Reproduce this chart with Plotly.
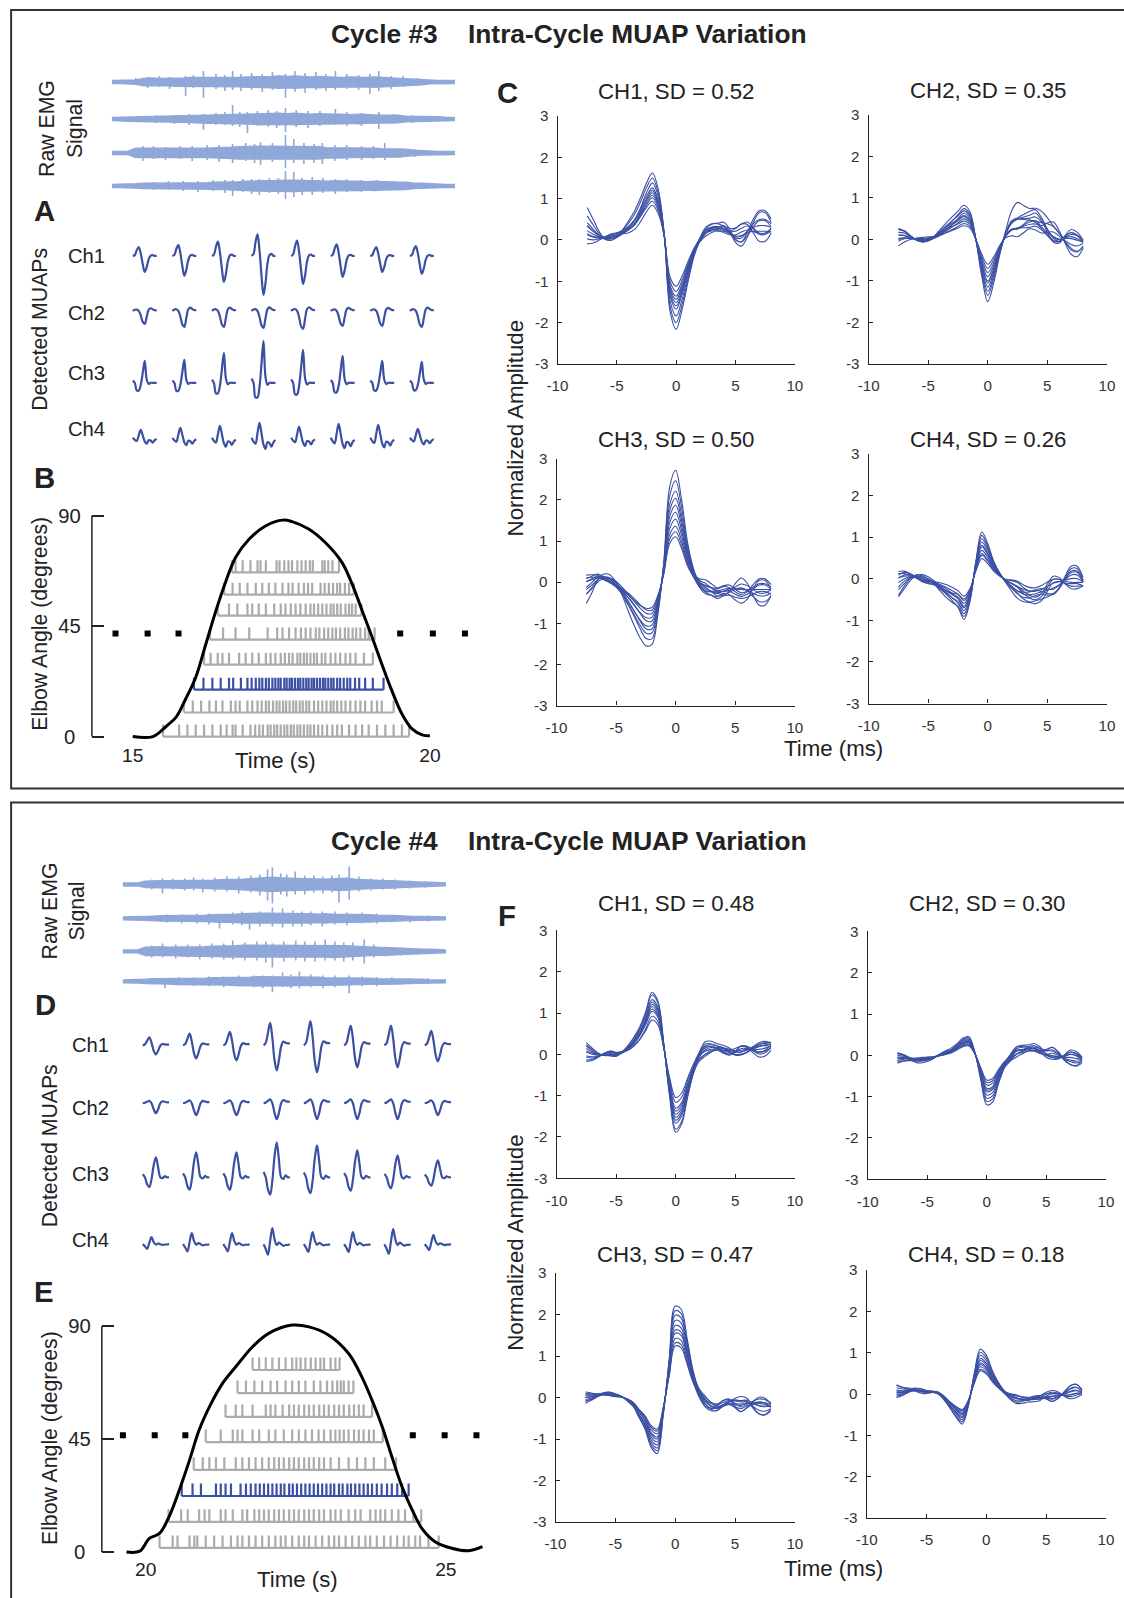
import numpy as np
import plotly.graph_objects as go

W, H = 1124, 1598
# the photographed page gets an 8px frame and is squeezed back to W x H,
# so reference pixel positions are mapped through this before use
OFF = 8
SX, SY = (W + 2 * OFF) / W, (H + 2 * OFF) / H
FS = 1.012
FONT = "Liberation Sans, Arial, Helvetica, sans-serif"
INK = "#222222"
TICK_INK = "#333333"
BLUE = "#3b4fa3"
EMG_BLUE = "#8fa7d9"
GREY = "#ababab"

# ---------------- raw EMG (core half-width in a.u., spikes as (time s, up, down)) ----------------
EMG3_SPAN = [14.65, 20.40]
EMG3_ENV = [
    [0.8, 0.8, 0.8, 1.5, 3, 3.5, 3, 3, 3.5, 3.5, 4, 4, 3.5, 4, 4, 4, 4, 4.5, 4.5, 5, 5, 5.5, 5, 5.5, 5, 4.5,
     5, 4.5, 4.5, 4, 4.5, 4, 4, 4.5, 4, 3.5, 3.5, 3, 2.5, 2, 1, 0.8, 0.8, 0.8],
    [0.8, 1, 1.5, 1.5, 2, 2, 2, 2, 2.5, 2.5, 3, 3, 3.5, 3.5, 3.5, 4, 4, 4.5, 4.5, 5, 4.5, 5, 4.5, 5, 4.5, 4,
     4.5, 4, 4, 4, 3.5, 4, 3.5, 3.5, 3, 3, 3, 2, 2, 2, 1.5, 1.5, 1, 0.8],
    [0.8, 0.8, 0.8, 4, 4, 3.5, 3.5, 3.5, 4, 4, 4, 4, 4, 4.5, 4.5, 5, 5.5, 6, 6, 6, 6, 6, 5.5, 6, 6, 5.5, 5.5,
     4.5, 4.5, 4.5, 4, 4, 4, 4, 3.5, 3.5, 3.5, 3, 2, 1.5, 1, 0.8, 0.8, 0.8],
    [0.8, 0.8, 1, 1.5, 2, 2, 2, 2, 2.5, 2.5, 2.5, 2.5, 2.5, 3, 3, 3.5, 3.5, 4, 4.5, 4.5, 4.5, 5, 5, 5, 4.5,
     4.5, 4.5, 4, 4.5, 4, 4, 4, 3.5, 4, 3.5, 3.5, 3, 3, 2, 2, 1.5, 1, 0.8, 0.8],
]
EMG3_SPIKES = [
    [(15.05, 4, 3), (15.25, 5, 6), (15.45, 6, 5), (15.62, 5, 7), (15.89, 6, 14), (16.02, 7, 6), (16.19, 11, 16),
     (16.40, 8, 7), (16.55, 7, 9), (16.68, 11, 8), (16.82, 8, 9), (17.00, 9, 8), (17.18, 8, 10), (17.35, 10, 8),
     (17.57, 8, 16), (17.73, 11, 10), (17.90, 9, 11), (18.08, 10, 8), (18.25, 8, 9), (18.41, 11, 8),
     (18.60, 8, 7), (18.80, 7, 8), (18.99, 8, 12), (19.14, 11, 9), (19.35, 6, 7), (19.55, 6, 5), (19.80, 4, 4)],
    [(15.10, 3, 3), (15.40, 4, 4), (15.70, 4, 5), (15.95, 5, 6), (16.19, 5, 11), (16.40, 6, 6), (16.55, 7, 6),
     (16.68, 14, 7), (16.80, 7, 8), (16.93, 7, 14), (17.10, 8, 7), (17.28, 9, 8), (17.42, 8, 9), (17.57, 11, 13),
     (17.75, 9, 8), (17.95, 8, 9), (18.15, 8, 7), (18.41, 10, 6), (18.60, 7, 7), (18.85, 6, 7), (19.14, 7, 10),
     (19.40, 5, 5), (19.70, 4, 4), (20.00, 3, 3)],
    [(15.17, 7, 8), (15.35, 7, 6), (15.55, 6, 7), (15.80, 7, 6), (16.00, 7, 8), (16.25, 8, 7), (16.45, 8, 9),
     (16.68, 9, 10), (16.90, 10, 8), (17.05, 9, 10), (17.15, 11, 12), (17.35, 10, 9), (17.57, 18, 15),
     (17.71, 14, 10), (17.88, 10, 11), (18.05, 9, 10), (18.19, 10, 11), (18.40, 8, 8), (18.60, 8, 7),
     (18.85, 7, 7), (19.05, 7, 6), (19.24, 10, 7), (19.50, 5, 5), (19.75, 4, 4)],
    [(15.10, 3, 3), (15.35, 4, 4), (15.60, 5, 4), (15.85, 5, 5), (16.10, 5, 6), (16.35, 6, 5), (16.55, 6, 7),
     (16.68, 6, 10), (16.85, 7, 6), (17.00, 7, 8), (17.13, 7, 9), (17.30, 8, 7), (17.45, 8, 8), (17.57, 15, 13),
     (17.71, 14, 11), (17.85, 8, 9), (18.02, 9, 9), (18.20, 8, 7), (18.41, 7, 8), (18.60, 7, 6), (18.85, 6, 6),
     (19.10, 6, 5), (19.40, 5, 4), (19.70, 3, 3)],
]
EMG4_SPAN = [19.62, 24.98]
EMG4_ENV = [
    [0.8, 0.8, 0.8, 2.5, 3, 3, 3, 3, 3.5, 3, 3, 3.5, 3.5, 4, 4, 4, 4.5, 5, 5.5, 6, 6.5, 6, 5.5, 5.5, 5, 5, 4.5,
     4.5, 5, 5.5, 5.5, 4.5, 4, 3.5, 3.5, 3, 3, 2.5, 2.5, 2, 1.5, 1.5, 1, 0.8],
    [0.8, 0.8, 1, 1.5, 1.5, 2, 2, 2, 2.5, 2.5, 2.5, 2.5, 3, 3, 3.5, 3.5, 4, 4.5, 4.5, 4.5, 4.5, 4, 4.5, 4, 4,
     4, 3.5, 4, 3.5, 3.5, 3.5, 3, 3, 3, 2.5, 2.5, 2, 2, 1.5, 1.5, 1, 1, 0.8, 0.8],
    [0.8, 0.8, 0.8, 3.5, 4, 4, 3.5, 3.5, 4, 4, 4, 4, 4.5, 4.5, 5, 5, 5.5, 5.5, 5, 5.5, 5.5, 5, 5.5, 5, 5.5,
     5.5, 5, 5, 5.5, 5, 5, 4.5, 4, 3.5, 3, 3, 3, 2.5, 2, 2, 1.5, 1.5, 1, 0.8],
    [0.8, 0.8, 1, 1.5, 2, 2, 2, 2.5, 2.5, 2.5, 2.5, 2.5, 3, 3, 3, 3.5, 3.5, 3.5, 4, 4, 4, 3.5, 4, 3.5, 3.5,
     3.5, 3.5, 3, 3, 3, 3, 2.5, 2.5, 2.5, 2, 2, 2, 2, 1.5, 1.5, 1.5, 1, 0.8, 0.8],
]
EMG4_SPIKES = [
    [(20.10, 5, 5), (20.28, 6, 9), (20.45, 6, 5), (20.65, 6, 6), (20.80, 7, 6), (20.95, 6, 8), (21.15, 7, 7),
     (21.35, 8, 7), (21.55, 8, 9), (21.75, 9, 8), (21.90, 10, 11), (22.03, 15, 16), (22.11, 17, 19),
     (22.25, 11, 10), (22.35, 10, 12), (22.49, 13, 10), (22.65, 9, 10), (22.80, 9, 8), (22.95, 8, 9),
     (23.10, 9, 8), (23.22, 10, 18), (23.39, 18, 15), (23.55, 8, 7), (23.75, 6, 6), (23.95, 6, 5),
     (24.15, 5, 5), (24.40, 4, 4), (24.65, 3, 3)],
    [(20.10, 3, 3), (20.35, 4, 4), (20.60, 4, 5), (20.85, 5, 5), (21.05, 5, 6), (21.23, 4, 10), (21.45, 6, 6),
     (21.60, 7, 7), (21.73, 5, 11), (21.90, 7, 8), (22.11, 11, 8), (22.28, 10, 9), (22.45, 8, 8), (22.60, 7, 8),
     (22.75, 7, 7), (22.94, 7, 8), (23.15, 7, 6), (23.35, 6, 7), (23.60, 6, 5), (23.85, 5, 5), (24.10, 4, 4),
     (24.40, 3, 4), (24.70, 3, 3)],
    [(20.10, 6, 6), (20.28, 8, 6), (20.50, 7, 7), (20.70, 7, 6), (20.90, 7, 8), (21.10, 8, 7), (21.30, 8, 8),
     (21.45, 11, 8), (21.65, 9, 9), (21.85, 10, 9), (22.00, 10, 11), (22.11, 8, 16), (22.30, 10, 10),
     (22.50, 11, 9), (22.65, 10, 10), (22.82, 10, 10), (22.99, 12, 9), (23.15, 10, 9), (23.30, 9, 10),
     (23.45, 9, 9), (23.64, 12, 12), (23.80, 7, 6), (24.00, 5, 5), (24.25, 4, 4), (24.55, 3, 3)],
    [(20.10, 3, 3), (20.32, 3, 7), (20.55, 4, 4), (20.80, 4, 5), (21.05, 5, 5), (21.30, 5, 6), (21.55, 6, 5),
     (21.80, 6, 6), (21.95, 6, 7), (22.11, 6, 11), (22.28, 9, 6), (22.42, 7, 7), (22.56, 10, 7), (22.75, 7, 6),
     (22.95, 6, 7), (23.15, 6, 6), (23.39, 6, 12), (23.60, 5, 5), (23.85, 4, 5), (24.10, 4, 4), (24.40, 3, 3),
     (24.70, 3, 3)],
]

# ---------------- detected MUAPs: per-channel waveform and amplitude of each of the 8 firings ----------------
MUAP3_TEMPLATE = [
    [0, 0.05, 0.35, 0.55, 0.15, -0.5, -1.0, -0.7, -0.2, 0.02, 0.05, 0.0, 0.0],
    [0.0, 0.08, 0.1, 0.0, -0.35, -0.85, -1.0, -0.45, 0.1, 0.2, 0.12, 0.05, 0.05],
    [0.1, 0.0, -0.35, -0.35, -0.1, 0.45, 1.0, 0.15, -0.05, 0.0, 0.0, 0.0, 0.0],
    [0.0, -0.25, -0.4, 0.3, 1.0, 0.3, -0.45, -0.75, -0.3, -0.35, -0.6, -0.3, -0.15],
]
MUAP3_AMP = [
    [16, 20, 26, 39, 28, 21, 16, 18],
    [13, 16, 16, 17, 18, 15, 15, 16],
    [22, 23, 30, 42, 33, 27, 22, 21],
    [8, 10, 12, 15, 11, 14, 13, 9],
]
MUAP4_TEMPLATE = [
    [0, 0.1, 0.5, 0.9, 0.3, -0.6, -1.0, -0.6, -0.05, 0.15, 0.1, 0.08, 0.08],
    [0, 0.05, 0.15, 0.25, 0.0, -0.6, -1.0, -0.6, 0.0, 0.2, 0.15, 0.1, 0.1],
    [0.15, 0.0, -0.35, -0.5, -0.1, 0.6, 1.0, 0.5, 0.0, -0.05, 0.05, 0.0, 0.0],
    [0.0, -0.3, -0.65, 0.2, 1.0, 0.3, -0.05, 0.1, 0.0, -0.1, -0.05, -0.05, 0.0],
]
MUAP4_AMP = [
    [9, 13, 15, 25, 27, 22, 22, 16],
    [10, 12, 12, 16, 16, 16, 16, 12],
    [20, 25, 25, 35, 32, 27, 22, 17],
    [7, 11, 11, 16, 12, 12, 15, 9],
]
CH_NAMES = ["Ch1", "Ch2", "Ch3", "Ch4"]

# ---------------- elbow angle and motor unit firings ----------------
ANGLE3_T = [15.0, 15.34, 15.56, 15.73, 15.89, 16.06, 16.23, 16.40, 16.57, 16.73, 16.96, 17.24, 17.52, 17.68,
            17.96, 18.24, 18.52, 18.69, 18.86, 19.03, 19.19, 19.36, 19.53, 19.70, 19.87, 20.0]
ANGLE3 = [0.0, 0.0, 4.1, 7.9, 15.3, 24.2, 37.7, 51.3, 63.5, 73.0, 80.5, 85.9, 88.2, 87.6, 84.6, 79.1, 71.0,
          62.2, 51.3, 40.4, 29.6, 18.7, 9.2, 3.1, 0.7, 0.3]
THRESH3_T = [14.71, 15.25, 15.77, 19.50, 20.05, 20.59]
THRESH3 = 42
RASTER3_LEVEL = [66.9, 57.8, 49.3, 39.5, 29.3, 19.1, 9.8, 0.0]
RASTER3 = [
    [16.67, 16.73, 16.85, 16.98, 17.10, 17.15, 17.24, 17.42, 17.47, 17.55, 17.62, 17.68, 17.77, 17.84, 17.91,
     17.98, 18.03, 18.19, 18.23, 18.29, 18.36, 18.47],
    [16.54, 16.68, 16.80, 16.93, 17.07, 17.18, 17.29, 17.40, 17.52, 17.62, 17.69, 17.79, 17.88, 17.95, 18.02,
     18.16, 18.23, 18.30, 18.37, 18.44, 18.49, 18.57, 18.64, 18.72],
    [16.43, 16.62, 16.76, 16.93, 17.01, 17.12, 17.24, 17.38, 17.49, 17.57, 17.66, 17.74, 17.82, 17.91, 17.99,
     18.05, 18.12, 18.19, 18.26, 18.33, 18.38, 18.44, 18.50, 18.58, 18.64, 18.69, 18.75, 18.85],
    [16.30, 16.52, 16.73, 16.96, 17.27, 17.43, 17.52, 17.63, 17.74, 17.83, 17.91, 17.99, 18.08, 18.14, 18.22,
     18.29, 18.36, 18.42, 18.49, 18.57, 18.63, 18.70, 18.76, 18.83, 18.91, 18.97, 19.07],
    [16.20, 16.31, 16.43, 16.51, 16.62, 16.79, 16.90, 17.01, 17.12, 17.24, 17.32, 17.40, 17.49, 17.56, 17.63,
     17.69, 17.77, 17.82, 17.88, 17.93, 17.99, 18.05, 18.10, 18.18, 18.24, 18.33, 18.41, 18.49, 18.58, 18.66,
     18.75, 18.89, 19.04],
    [16.03, 16.19, 16.34, 16.48, 16.62, 16.69, 16.82, 16.93, 17.00, 17.07, 17.13, 17.18, 17.24, 17.29, 17.35,
     17.40, 17.45, 17.49, 17.55, 17.59, 17.64, 17.68, 17.73, 17.78, 17.82, 17.87, 17.92, 17.96, 18.01, 18.05,
     18.10, 18.15, 18.20, 18.24, 18.29, 18.34, 18.38, 18.44, 18.49, 18.55, 18.61, 18.66, 18.74, 18.81, 18.91,
     19.04, 19.22],
    [15.86, 16.01, 16.15, 16.29, 16.40, 16.51, 16.65, 16.73, 16.80, 16.93, 17.01, 17.10, 17.17, 17.24, 17.29,
     17.36, 17.42, 17.47, 17.53, 17.58, 17.64, 17.70, 17.75, 17.81, 17.86, 17.92, 17.97, 18.05, 18.12, 18.19,
     18.26, 18.33, 18.38, 18.44, 18.51, 18.58, 18.66, 18.75, 18.83, 18.91, 19.02, 19.11, 19.19, 19.39],
    [15.51, 15.78, 15.92, 16.06, 16.20, 16.34, 16.48, 16.58, 16.68, 16.73, 16.85, 16.98, 17.06, 17.13, 17.19,
     17.27, 17.32, 17.38, 17.43, 17.49, 17.55, 17.60, 17.66, 17.71, 17.77, 17.82, 17.88, 17.94, 17.99, 18.05,
     18.12, 18.19, 18.27, 18.36, 18.44, 18.52, 18.64, 18.75, 18.86, 18.97, 19.11, 19.25, 19.39, 19.53, 19.65],
]
ANGLE4_T = [19.68, 19.9, 20.06, 20.23, 20.39, 20.56, 20.73, 20.89, 21.09, 21.28, 21.5, 21.78, 22.05, 22.44,
            22.72, 23.05, 23.38, 23.6, 23.77, 23.94, 24.1, 24.27, 24.44, 24.6, 24.82, 25.1, 25.38, 25.61]
ANGLE4 = [0.0, 0.3, 5.4, 7.4, 14.1, 24.7, 36.6, 48.6, 59.2, 67.2, 73.8, 81.8, 87.1, 90.4, 89.7, 86.4, 79.1,
          69.8, 60.5, 49.9, 38.0, 26.0, 16.7, 9.4, 4.1, 1.5, 0.5, 2.1]
THRESH4_T = [19.62, 20.15, 20.66, 24.45, 24.98, 25.51]
THRESH4 = 46.5
RASTER4_LEVEL = [72.5, 63.3, 53.8, 43.8, 32.7, 22.3, 12.0, 1.6]
RASTER4 = [
    [21.78, 21.89, 22.00, 22.11, 22.22, 22.33, 22.44, 22.51, 22.58, 22.66, 22.75, 22.83, 22.91, 22.97, 23.08,
     23.16, 23.23],
    [21.53, 21.67, 21.81, 21.94, 22.08, 22.19, 22.33, 22.44, 22.55, 22.66, 22.80, 22.91, 23.02, 23.11, 23.19,
     23.25, 23.30, 23.38, 23.46],
    [21.33, 21.50, 21.61, 21.78, 22.00, 22.08, 22.16, 22.28, 22.39, 22.47, 22.55, 22.64, 22.72, 22.80, 22.89,
     22.97, 23.05, 23.14, 23.22, 23.30, 23.39, 23.47, 23.55, 23.63, 23.77],
    [21.00, 21.25, 21.45, 21.53, 21.61, 21.78, 21.89, 22.05, 22.16, 22.30, 22.44, 22.55, 22.66, 22.77, 22.88,
     22.97, 23.08, 23.16, 23.23, 23.30, 23.38, 23.47, 23.55, 23.63, 23.72, 23.80, 23.95],
    [20.80, 20.95, 21.06, 21.17, 21.31, 21.50, 21.61, 21.72, 21.83, 21.94, 22.05, 22.14, 22.22, 22.30, 22.39,
     22.47, 22.55, 22.64, 22.72, 22.80, 22.89, 22.97, 23.08, 23.22, 23.38, 23.52, 23.66, 23.80, 23.99, 24.17],
    [20.60, 20.78, 20.92, 21.17, 21.25, 21.33, 21.42, 21.58, 21.67, 21.75, 21.83, 21.90, 21.97, 22.04, 22.11,
     22.18, 22.25, 22.31, 22.39, 22.45, 22.52, 22.59, 22.66, 22.73, 22.80, 22.87, 22.94, 23.01, 23.08, 23.14,
     23.22, 23.28, 23.36, 23.42, 23.49, 23.56, 23.63, 23.70, 23.77, 23.85, 23.93, 24.02, 24.10, 24.19, 24.27,
     24.38],
    [20.38, 20.59, 20.70, 20.89, 20.98, 21.06, 21.25, 21.33, 21.45, 21.61, 21.69, 21.81, 21.89, 21.97, 22.05,
     22.14, 22.22, 22.30, 22.39, 22.47, 22.55, 22.64, 22.72, 22.80, 22.89, 22.97, 23.08, 23.16, 23.25, 23.38,
     23.49, 23.58, 23.74, 23.83, 23.91, 23.99, 24.10, 24.21, 24.32, 24.46, 24.59],
    [20.23, 20.45, 20.53, 20.73, 20.81, 20.86, 21.00, 21.14, 21.28, 21.42, 21.53, 21.61, 21.72, 21.83, 21.94,
     22.05, 22.16, 22.25, 22.33, 22.44, 22.55, 22.64, 22.72, 22.83, 22.94, 23.05, 23.14, 23.22, 23.33, 23.44,
     23.55, 23.66, 23.74, 23.85, 23.97, 24.08, 24.19, 24.30, 24.38, 24.49, 24.57, 24.71, 24.88],
]
HIGHLIGHT_ROW = 5

# ---------------- superimposed MUAPs (ms) ----------------
T_MS = [-7.5, -7.0, -6.5, -6.0, -5.5, -5.0, -4.5, -4.0, -3.5, -3.0, -2.5, -2.0, -1.5, -1.0, -0.5, 0.0,
        0.5, 1.0, 1.5, 2.0, 2.5, 3.0, 3.5, 4.0, 4.5, 5.0, 5.5, 6.0, 6.5, 7.0, 7.5, 8.0]
# shared shapes of the trace-to-trace differences (onset, after-wave, late tail)
EARLY = [0.45, 0.3, 0.1, -0.05, -0.12, -0.1, -0.02, 0.06, 0.1, 0.08, 0.03, 0.0,
         0, 0, 0, 0, 0, 0, 0, 0, 0, 0, 0, 0, 0, 0, 0, 0, 0, 0, 0, 0]
MID = [0, 0, 0, 0, 0, 0, 0, 0, 0, 0, 0, 0, 0, 0, 0, 0, 0, 0,
       0.05, 0.2, 0.3, 0.2, 0.1, 0.12, 0.15, 0.08, 0, 0, 0, 0, 0, 0]
LATE = [0, 0, 0, 0, 0, 0, 0, 0, 0, 0, 0, 0, 0, 0, 0, 0, 0, 0, 0, 0, 0, 0, 0,
        0.05, 0.0, -0.15, -0.25, -0.15, 0.1, 0.3, 0.3, 0.1]

C_SD = ["0.52", "0.35", "0.50", "0.26"]
C_MAIN = [
    [0.25, 0.15, 0.08, 0.05, 0.08, 0.12, 0.2, 0.3, 0.45, 0.7, 1.0, 1.2, 0.9, 0.1, -1.3, -1.6, -1.25, -0.75,
     -0.3, 0.0, 0.2, 0.28, 0.3, 0.28, 0.2, 0.12, 0.15, 0.25, 0.3, 0.3, 0.3, 0.3],
    [0.1, 0.1, 0.05, 0.0, -0.02, 0.0, 0.05, 0.15, 0.25, 0.35, 0.45, 0.55, 0.45, 0.0, -0.6, -1.0, -0.7, -0.25,
     0.1, 0.3, 0.35, 0.4, 0.45, 0.45, 0.35, 0.25, 0.15, 0.05, 0.0, -0.05, -0.1, -0.1],
    [-0.1, 0.0, 0.1, 0.1, 0.05, -0.05, -0.2, -0.4, -0.6, -0.8, -0.95, -0.95, -0.5, 0.3, 1.45, 1.7, 1.25, 0.6,
     0.2, -0.05, -0.15, -0.2, -0.25, -0.22, -0.2, -0.2, -0.2, -0.2, -0.2, -0.2, -0.2, -0.2],
    [-0.1, 0.0, 0.05, 0.05, 0.0, -0.05, -0.1, -0.2, -0.3, -0.4, -0.5, -0.7, -0.4, 0.3, 0.8, 0.6, 0.3, 0.1,
     -0.05, -0.15, -0.25, -0.35, -0.4, -0.4, -0.35, -0.25, -0.15, -0.1, -0.05, 0.0, 0.0, -0.1],
]
C_GAIN = [
    [1.35, 1.25, 1.15, 1.05, 1.0, 0.95, 0.9, 0.85, 0.78, 0.7],
    [1.5, 1.35, 1.25, 1.15, 1.05, 1.0, 0.9, 0.8, 0.7, 0.6],
    [1.6, 1.45, 1.3, 1.2, 1.1, 1.0, 0.9, 0.8, 0.72, 0.65],
    [1.4, 1.3, 1.2, 1.1, 1.0, 0.95, 0.85, 0.75, 0.7, 0.6],
]
C_EARLY = [
    [1.0, 0.6, -0.3, 0.2, -0.5, 0.4, 0.0, -0.2, 0.3, -0.6],
    [0.2, -0.4, 0.1, -0.6, 0.3, 0.0, -0.2, 0.4, -0.1, 0.1],
    [-0.8, 0.5, 0.0, 0.3, -0.4, 0.6, -0.2, 0.2, 0.4, -0.5],
    [0.5, -0.6, 0.3, -0.2, 0.6, 0.0, -0.4, 0.2, -0.8, 0.4],
]
C_MID = [
    [0.0, 0.2, -0.2, 0.1, 0.0, -0.1, 0.2, 0.0, -0.2, 0.1],
    [0.0, 1.4, 0.2, -0.5, 0.4, -0.3, 0.6, 0.0, -0.6, 0.2],
    [0.0, 0.3, -0.3, 0.5, 0.0, -0.2, 0.2, 0.6, -0.4, 0.0],
    [0.0, -0.5, 0.3, -0.3, 0.2, -0.2, 0.4, 0.0, -0.4, 0.3],
]
C_LATE = [
    [1.0, -0.8, 0.5, -0.5, 1.2, 0.2, -1.0, 0.7, -0.3, 0.0],
    [0.8, -0.5, 1.0, -1.0, 0.4, 0.7, -0.7, 0.2, -0.3, 0.5],
    [0.3, -0.6, 1.0, -0.3, 0.5, -1.2, 0.0, 0.4, -0.4, 0.7],
    [0.6, -0.4, 0.8, -0.6, 0.3, -0.8, 0.5, 0.0, 1.0, -0.3],
]

F_SD = ["0.48", "0.30", "0.47", "0.18"]
F_MAIN = [
    [0.05, 0.0, -0.02, 0.0, 0.02, 0.0, 0.05, 0.15, 0.3, 0.5, 0.8, 1.15, 1.0, 0.2, -0.8, -1.45, -1.3, -0.8,
     -0.35, -0.05, 0.1, 0.15, 0.15, 0.1, 0.05, 0.05, 0.1, 0.12, 0.12, 0.12, 0.15, 0.2],
    [-0.05, -0.05, -0.08, -0.1, -0.1, -0.08, -0.05, 0.0, 0.05, 0.1, 0.18, 0.28, 0.3, 0.05, -0.4, -0.8, -0.75,
     -0.45, -0.2, -0.05, 0.08, 0.12, 0.15, 0.15, 0.1, 0.05, 0.05, 0.0, -0.05, -0.05, -0.08, -0.1],
    [0.0, 0.02, 0.05, 0.08, 0.08, 0.05, 0.02, -0.05, -0.15, -0.35, -0.55, -0.85, -0.95, -0.3, 0.65, 1.55, 1.5,
     1.0, 0.45, 0.1, -0.1, -0.2, -0.22, -0.15, -0.1, -0.12, -0.15, -0.12, -0.15, -0.18, -0.2, -0.2],
    [0.05, 0.05, 0.08, 0.1, 0.08, 0.05, 0.05, 0.02, -0.1, -0.25, -0.4, -0.5, -0.2, 0.35, 0.75, 0.65, 0.4, 0.2,
     0.05, -0.05, -0.1, -0.12, -0.12, -0.1, -0.08, -0.05, -0.05, -0.03, 0.0, 0.05, 0.08, 0.05],
]
F_GAIN = [
    [1.3, 1.25, 1.15, 1.1, 1.05, 1.0, 0.95, 0.9, 0.8, 0.72],
    [1.5, 1.4, 1.3, 1.2, 1.1, 1.05, 1.0, 0.9, 0.82, 0.75],
    [1.42, 1.35, 1.28, 1.2, 1.12, 1.05, 1.0, 0.92, 0.85, 0.8],
    [1.45, 1.35, 1.25, 1.15, 1.08, 1.0, 0.95, 0.88, 0.8, 0.75],
]
F_EARLY = [
    [0.3, -0.3, 0.5, -0.5, 0.2, 0.0, -0.2, 0.4, -0.4, 0.1],
    [0.3, -0.2, 0.0, 0.2, -0.3, 0.1, 0.0, -0.1, 0.2, -0.2],
    [0.2, -0.2, 0.1, 0.0, -0.3, 0.3, -0.1, 0.2, 0.0, -0.2],
    [0.3, -0.2, 0.2, 0.0, -0.3, 0.1, 0.4, -0.1, 0.0, -0.2],
]
F_MID = [
    [0.6, -0.4, 0.3, 0.0, -0.5, 0.5, 0.2, -0.3, 0.0, 0.4],
    [0.3, -0.3, 0.2, 0.0, -0.2, 0.4, -0.4, 0.1, 0.2, -0.1],
    [0.0, 0.3, -0.3, 0.2, 0.5, -0.2, 0.0, -0.4, 0.3, 0.1],
    [0.2, -0.3, 0.1, 0.0, 0.3, -0.2, 0.0, 0.2, -0.4, 0.1],
]
F_LATE = [
    [0.3, -0.3, 0.2, 0.5, -0.4, 0.0, 0.4, -0.2, 0.3, -0.5],
    [0.5, -0.5, 0.3, -0.3, 0.6, -0.2, 0.0, 0.4, -0.6, 0.2],
    [0.5, -0.5, 0.3, -0.3, 0.7, 0.0, -0.7, 0.2, 0.4, -0.2],
    [0.4, -0.3, 0.2, -0.4, 0.5, 0.0, 0.3, -0.2, 0.1, -0.5],
]


# ---------------- helpers (reference pixel layout -> paper) ----------------
def fx(x):
    return (x * SX - OFF) / W


def fy(y):
    return 1 - (y * SY - OFF) / H


def pxx(a, b):
    return [fx(a), fx(b)]


def pxy(top, bottom):
    return [fy(bottom), fy(top)]


def span(pa, pb, p0, v0, p1, v1):
    k = (v1 - v0) / (p1 - p0)
    return [v0 + (pa - p0) * k, v0 + (pb - p0) * k]


def ref(n):
    return ("x" if n == 1 else f"x{n}"), ("y" if n == 1 else f"y{n}")


def keys(n):
    return ("xaxis" if n == 1 else f"xaxis{n}"), ("yaxis" if n == 1 else f"yaxis{n}")


fig = go.Figure()
layout = {}
annotations = []
shapes = []


def line_trace(n, x, y, color, width, shape="linear", **kw):
    xr, yr = ref(n)
    fig.add_trace(go.Scatter(x=x, y=y, mode="lines", xaxis=xr, yaxis=yr, hoverinfo="skip",
                             showlegend=False, line=dict(color=color, width=width, shape=shape), **kw))


def hidden_axes(n, xdom, ydom, xrange, yrange):
    xk, yk = keys(n)
    xr, yr = ref(n)
    layout[xk] = dict(domain=xdom, range=xrange, visible=False, anchor=yr, fixedrange=True)
    layout[yk] = dict(domain=ydom, range=yrange, visible=False, anchor=xr, fixedrange=True)


def note(text, x, y, size, bold=False, angle=0, xanchor="center", color=INK):
    if bold:
        text = f"<b>{text}</b>"
    annotations.append(dict(text=text, x=fx(x), y=fy(y), xref="paper", yref="paper", showarrow=False,
                            textangle=angle, xanchor=xanchor, yanchor="middle",
                            font=dict(family=FONT, size=size * FS, color=color)))


def add_emg(n, span_t, envs, spikes, bases):
    for env, spk, base in zip(envs, spikes, bases):
        t = np.linspace(span_t[0], span_t[1], len(env))
        e = np.array(env, dtype=float)
        line_trace(n, [span_t[0], span_t[1]], [base, base], EMG_BLUE, 2)
        line_trace(n, np.concatenate([t, t[::-1]]), np.concatenate([base + e, (base - e)[::-1]]),
                   EMG_BLUE, 2.8, fill="toself", fillcolor=EMG_BLUE)
        xs, ys = [], []
        for tt, up, dn in spk:
            xs += [tt, tt, None]
            ys += [base + up, base - dn, None]
        line_trace(n, xs, ys, EMG_BLUE, 1.6)


def add_muaps(n, templates, amps, bases, col_step, step):
    for tmpl, amp_row, base in zip(templates, amps, bases):
        xs, ys = [], []
        for j, a in enumerate(amp_row):
            x0 = 10 + j * col_step
            for k, v in enumerate(tmpl):
                xs.append(x0 + k * step)
                ys.append(base + a * v)
            xs.append(None)
            ys.append(None)
        line_trace(n, xs, ys, BLUE, 2.2, shape="spline")


def add_elbow(n, t, ang, th_t, th, rows, levels, tick_h):
    for i, (times, lvl) in enumerate(zip(rows, levels)):
        xs, ys = [times[0], times[-1], None], [lvl, lvl, None]
        for tt in times:
            xs += [tt, tt, None]
            ys += [lvl, lvl + tick_h, None]
        line_trace(n, xs, ys, BLUE if i == HIGHLIGHT_ROW else GREY, 2.2)
    line_trace(n, t, ang, "black", 3, shape="spline")
    xr, yr = ref(n)
    fig.add_trace(go.Scatter(x=th_t, y=[th] * len(th_t), mode="markers", xaxis=xr, yaxis=yr,
                             hoverinfo="skip", showlegend=False,
                             marker=dict(symbol="square", size=6, color="black")))


def elbow_axes(n, xdom_px, ydom_px, xmap, ymap, xticks, label_y):
    xk, yk = keys(n)
    xr, yr = ref(n)
    layout[xk] = dict(domain=pxx(*xdom_px), range=span(xdom_px[0], xdom_px[1], *xmap), anchor="free",
                      position=fy(label_y), showline=False, ticks="", showgrid=False,
                      zeroline=False, tickvals=xticks, ticktext=[str(v) for v in xticks],
                      tickfont=dict(family=FONT, size=19 * FS, color=INK), fixedrange=True)
    # MATLAB-style labels: the single "0" sits a little left of the right edge
    layout[yk] = dict(domain=pxy(*ydom_px), range=span(ydom_px[1], ydom_px[0], *ymap), anchor=xr,
                      showline=False, ticks="inside", ticklen=12, tickwidth=1.5, tickcolor=INK,
                      tickvals=[0, 45, 90], ticktext=["0\u2008", "45", "90"], showgrid=False,
                      zeroline=False, ticklabelstandoff=10,
                      tickfont=dict(family=FONT, size=20 * FS, color=INK), fixedrange=True)
    shapes.append(dict(type="line", xref=f"{xr} domain", yref=yr, x0=0, x1=0, y0=0, y1=90,
                       line=dict(color=INK, width=1.5)))


OV_AX = dict(showline=True, linecolor=INK, linewidth=1.2, ticks="inside", ticklen=4, tickwidth=1,
             tickcolor=INK, showgrid=False, zeroline=False, fixedrange=True,
             tickfont=dict(family=FONT, size=15 * FS, color=TICK_INK))


def overlay(n, box, title_y, title, main, gains, early, mid, late):
    x0, x1, y0, y1 = box
    xk, yk = keys(n)
    xr, yr = ref(n)
    layout[xk] = dict(domain=pxx(x0, x1), range=[-10, 10], anchor=yr, tickvals=[-10, -5, 0, 5, 10],
                      ticktext=["-10", "-5", "0", "5", "10"], ticklabelstandoff=8, **OV_AX)
    layout[yk] = dict(domain=pxy(y0, y1), range=[-3, 3], anchor=xr, tickvals=[-3, -2, -1, 0, 1, 2, 3],
                      ticktext=["-3", "-2", "-1", "0", "1", "2", "3"], ticklabelstandoff=5, **OV_AX)
    m = np.array(main)
    xs, ys = [], []
    for g, a, b, c in zip(gains, early, mid, late):
        y = g * m + a * np.array(EARLY) + b * np.array(MID) + c * np.array(LATE)
        xs += T_MS + [None]
        ys += list(y) + [None]
    line_trace(n, xs, ys, BLUE, 1.1, shape="spline")
    note(title, (x0 + x1) / 2, title_y, 22)


# ---------------- cycle #3 ----------------
map3 = (130, 15, 428, 20)
hidden_axes(1, pxx(100, 460), pxy(60, 200), span(100, 460, *map3), [0, 140])
add_emg(1, EMG3_SPAN, EMG3_ENV, EMG3_SPIKES, [119, 82, 48, 15])

hidden_axes(2, pxx(120, 445), pxy(222, 460), [0, 325], [0, 238])
add_muaps(2, MUAP3_TEMPLATE, MUAP3_AMP, [205, 150, 78, 23], 39.7, 2.0)

elbow_axes(3, (89, 472), (505, 746), map3, (736, 0, 515, 90), [15, 20], 741)
add_elbow(3, ANGLE3_T, ANGLE3, THRESH3_T, THRESH3, RASTER3, RASTER3_LEVEL, 4.9)

# ---------------- cycle #4 ----------------
map4 = (143, 20, 444, 25)
hidden_axes(4, pxx(110, 460), pxy(860, 1000), span(110, 460, *map4), [0, 140])
add_emg(4, EMG4_SPAN, EMG4_ENV, EMG4_SPIKES, [116, 82, 49, 19])

hidden_axes(5, pxx(130, 455), pxy(1010, 1275), [0, 325], [0, 265])
add_muaps(5, MUAP4_TEMPLATE, MUAP4_AMP, [230, 172, 98, 31], 40.4, 2.2)

elbow_axes(6, (99, 485), (1316, 1562), map4, (1552, 0, 1326, 90), [20, 25], 1556)
add_elbow(6, ANGLE4_T, ANGLE4, THRESH4_T, THRESH4, RASTER4, RASTER4_LEVEL, 5.0)

# ---------------- superimposed MUAP panels ----------------
C_BOX = [(556, 794, 115, 363), (868, 1107, 114, 363), (555, 794, 458, 705), (868, 1107, 453, 703)]
C_TITLE_Y = [90, 89, 439, 439]
F_BOX = [(555, 794, 930, 1178), (867, 1106, 931, 1179), (554, 794, 1273, 1522), (866, 1106, 1270, 1518)]
F_TITLE_Y = [903, 903, 1254, 1254]
for i in range(4):
    overlay(7 + i, C_BOX[i], C_TITLE_Y[i], f"CH{i + 1}, SD = {C_SD[i]}",
            C_MAIN[i], C_GAIN[i], C_EARLY[i], C_MID[i], C_LATE[i])
    overlay(11 + i, F_BOX[i], F_TITLE_Y[i], f"CH{i + 1}, SD = {F_SD[i]}",
            F_MAIN[i], F_GAIN[i], F_EARLY[i], F_MID[i], F_LATE[i])

# ---------------- text ----------------
for cyc, y in (("3", 33), ("4", 841)):
    note(f"Cycle #{cyc}", 438, y, 26, bold=True, xanchor="right")
    note("Intra-Cycle MUAP Variation", 464, y, 26, bold=True, xanchor="left")

for letter, x, y in (("A", 41, 210), ("B", 41, 477), ("C", 506, 91),
                     ("D", 42, 1004), ("E", 41, 1291), ("F", 505, 915)):
    note(letter, x, y, 29, bold=True)

note("Raw EMG<br>Signal", 58, 127, 21, angle=-90)
note("Raw EMG<br>Signal", 61, 910, 21, angle=-90)
note("Detected MUAPs", 37, 329, 21, angle=-90)
note("Detected MUAPs", 47, 1145, 21, angle=-90)
for name, y in zip(CH_NAMES, [255, 312, 372, 428]):
    note(name, 63, y, 20, xanchor="left")
for name, y in zip(CH_NAMES, [1045, 1108, 1174, 1240]):
    note(name, 67, y, 20, xanchor="left")
note("Elbow Angle (degrees)", 37, 623, 21, angle=-90)
note("Elbow Angle (degrees)", 47, 1438, 21, angle=-90)
note("Time (s)", 273, 760, 22)
note("Time (s)", 295, 1580, 22)
note("Normalized Amplitude", 514, 428, 22, angle=-90)
note("Normalized Amplitude", 514, 1243, 22, angle=-90)
note("Time (ms)", 833, 748, 22)
note("Time (ms)", 833, 1569, 22)

# panel frames
for top, bottom in ((9, 788), (802, 1640)):
    shapes.append(dict(type="rect", xref="paper", yref="paper", x0=fx(8), x1=fx(1160),
                       y0=fy(bottom), y1=fy(top), line=dict(color="#333333", width=2)))

fig.update_layout(
    width=W, height=H, autosize=False,
    margin=dict(l=0, r=0, t=0, b=0, pad=0),
    paper_bgcolor="white", plot_bgcolor="rgba(0,0,0,0)",
    showlegend=False,
    font=dict(family=FONT, color=INK),
    annotations=annotations, shapes=shapes,
    **layout,
)

fig.write_html("out.html", config={"displayModeBar": False},
               post_script="document.body.style.margin='0px';")
